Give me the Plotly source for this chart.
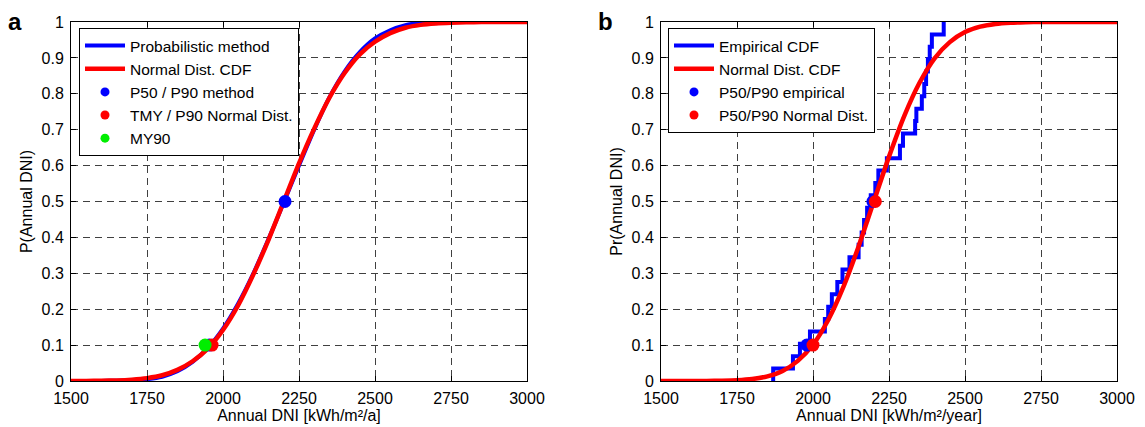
import plotly.graph_objects as go

# ---------------- data: panel a ----------------
dni_grid_a = [1500, 1550, 1600, 1650, 1700, 1750, 1800, 1850, 1900, 1950, 2000,
              2050, 2100, 2150, 2200, 2250, 2300, 2350, 2400, 2450, 2500,
              2550, 2600, 2650, 2700, 2750, 2800, 2850, 2900, 2950, 3000]
prob_method_cdf = [0.0, 0.0, 0.0002, 0.0007, 0.002, 0.005, 0.012, 0.027, 0.053, 0.092, 0.146,
                   0.216, 0.300, 0.396, 0.497, 0.600, 0.700, 0.790, 0.862, 0.916, 0.954,
                   0.977, 0.991, 0.998, 1.0, 1.0, 1.0, 1.0, 1.0, 1.0, 1.0]
normal_cdf_a = [0.0001, 0.0003, 0.0007, 0.0016, 0.0038, 0.008, 0.016, 0.031, 0.055, 0.090, 0.142,
                0.211, 0.297, 0.394, 0.500, 0.606, 0.703, 0.789, 0.858, 0.910, 0.945,
                0.969, 0.984, 0.992, 0.996, 0.998, 0.999, 1.0, 1.0, 1.0, 1.0]
p50_p90_method_x = [2204, 1955]
p50_p90_method_y = [0.5, 0.1]
tmy_p90_normal_x = [1964]
tmy_p90_normal_y = [0.1]
my90_x = [1941]
my90_y = [0.1]

# ---------------- data: panel b ----------------
annual_dni_years = [1869, 1934, 1957, 1990, 2039, 2050, 2062, 2080, 2097, 2120,
                    2150, 2160, 2168, 2178, 2190, 2205, 2215, 2243, 2286, 2296,
                    2336, 2340, 2358, 2366, 2372, 2378, 2384, 2391, 2430]
dni_grid_b = [1500, 1550, 1600, 1650, 1700, 1750, 1800, 1850, 1900, 1950, 2000,
              2050, 2100, 2150, 2200, 2250, 2300, 2350, 2400, 2450, 2500,
              2550, 2600, 2650, 2700, 2750, 2800, 2850, 2900, 2950, 3000]
normal_cdf_b = [0.0, 0.0, 0.0001, 0.0002, 0.0007, 0.002, 0.0054, 0.013, 0.028, 0.056, 0.101,
                0.170, 0.262, 0.375, 0.500, 0.625, 0.738, 0.830, 0.899, 0.944, 0.972,
                0.987, 0.9946, 0.998, 0.9993, 1.0, 1.0, 1.0, 1.0, 1.0, 1.0]
p50_p90_emp_x = [1980, 2197]
p50_p90_emp_y = [0.1, 0.5]
p50_p90_norm_x = [2000, 2205]
p50_p90_norm_y = [0.1, 0.5]

x_ticks = [1500, 1750, 2000, 2250, 2500, 2750, 3000]
y_ticks = [0, 0.1, 0.2, 0.3, 0.4, 0.5, 0.6, 0.7, 0.8, 0.9, 1]
y_tick_text = ["0", "0.1", "0.2", "0.3", "0.4", "0.5", "0.6", "0.7", "0.8", "0.9", "1"]

BLUE = "#0000ff"
RED = "#ff0000"
GREEN = "#00ee00"
FONT = "Liberation Sans, Arial, sans-serif"

# empirical CDF staircase from sorted annual values
n = len(annual_dni_years)
emp_x = annual_dni_years + [annual_dni_years[-1]]
emp_y = [k / n for k in range(n + 1)]

fig = go.Figure()

# ---- panel a curves ----
fig.add_trace(go.Scatter(x=dni_grid_a, y=prob_method_cdf, mode="lines", name="Probabilistic method",
                         line=dict(color=BLUE, width=4, shape="spline", smoothing=0.6),
                         xaxis="x", yaxis="y", legend="legend"))
fig.add_trace(go.Scatter(x=dni_grid_a, y=normal_cdf_a, mode="lines", name="Normal Dist. CDF",
                         line=dict(color=RED, width=4.5, shape="spline", smoothing=0.6),
                         xaxis="x", yaxis="y", legend="legend"))
# legend entries for markers (panel a)
for nm, col in [("P50 / P90 method", BLUE), ("TMY / P90 Normal Dist.", RED), ("MY90", GREEN)]:
    fig.add_trace(go.Scatter(x=[None], y=[None], mode="markers", name=nm,
                             marker=dict(color=col, size=9),
                             xaxis="x", yaxis="y", legend="legend"))
fig.add_trace(go.Scatter(x=p50_p90_method_x, y=p50_p90_method_y, mode="markers", showlegend=False,
                         marker=dict(color=BLUE, size=13), xaxis="x", yaxis="y"))
fig.add_trace(go.Scatter(x=tmy_p90_normal_x, y=tmy_p90_normal_y, mode="markers", showlegend=False,
                         marker=dict(color=RED, size=13), xaxis="x", yaxis="y"))
fig.add_trace(go.Scatter(x=my90_x, y=my90_y, mode="markers", showlegend=False,
                         marker=dict(color=GREEN, size=13), xaxis="x", yaxis="y"))

# ---- panel b curves ----
fig.add_trace(go.Scatter(x=emp_x, y=emp_y, mode="lines", name="Empirical CDF",
                         line=dict(color=BLUE, width=4, shape="vh"),
                         xaxis="x2", yaxis="y2", legend="legend2"))
fig.add_trace(go.Scatter(x=dni_grid_b, y=normal_cdf_b, mode="lines", name="Normal Dist. CDF",
                         line=dict(color=RED, width=4.5, shape="spline", smoothing=0.6),
                         xaxis="x2", yaxis="y2", legend="legend2"))
for nm, col in [("P50/P90 empirical", BLUE), ("P50/P90 Normal Dist.", RED)]:
    fig.add_trace(go.Scatter(x=[None], y=[None], mode="markers", name=nm,
                             marker=dict(color=col, size=9),
                             xaxis="x2", yaxis="y2", legend="legend2"))
fig.add_trace(go.Scatter(x=p50_p90_emp_x, y=p50_p90_emp_y, mode="markers", showlegend=False,
                         marker=dict(color=BLUE, size=13), xaxis="x2", yaxis="y2"))
fig.add_trace(go.Scatter(x=p50_p90_norm_x, y=p50_p90_norm_y, mode="markers", showlegend=False,
                         marker=dict(color=RED, size=13), xaxis="x2", yaxis="y2"))

W, H = 1145, 427
axis_common = dict(showline=True, linecolor="black", linewidth=1, mirror="ticks",
                   ticks="inside", ticklen=5, tickcolor="black",
                   showgrid=True, gridcolor="#404040", gridwidth=1, griddash="7px,5px",
                   zeroline=False, tickfont=dict(family=FONT, size=16, color="black"))

xa = dict(axis_common, range=[1500, 3000], tickvals=x_ticks, automargin=False,
          ticklabelstandoff=3)
ya = dict(axis_common, range=[0, 1], tickvals=y_ticks, ticktext=y_tick_text, automargin=False,
          ticklabelstandoff=3)

legend_common = dict(xanchor="left", yanchor="top", y=(381 - 28) / 359,
                     bgcolor="white", bordercolor="black", borderwidth=1,
                     font=dict(family=FONT, size=15.5), tracegroupgap=0, itemwidth=40)

fig.update_layout(
    width=W, height=H,
    margin=dict(l=0, r=0, t=22, b=46),
    plot_bgcolor="white", paper_bgcolor="white",
    font=dict(family=FONT, size=16, color="black"),
    xaxis=dict(xa, domain=[71 / W, 527 / W], anchor="y",
               title=dict(text="Annual DNI [kWh/m²/a]", standoff=0, font=dict(size=16))),
    yaxis=dict(ya, domain=[0, 1], anchor="x",
               title=dict(text="P(Annual DNI)", standoff=4, font=dict(size=16))),
    xaxis2=dict(xa, domain=[661 / W, 1117 / W], anchor="y2",
                title=dict(text="Annual DNI [kWh/m²/year]", standoff=0, font=dict(size=16))),
    yaxis2=dict(ya, domain=[0, 1], anchor="x2",
                title=dict(text="Pr(Annual DNI)", standoff=4, font=dict(size=16))),
    legend=dict(legend_common, x=79 / W),
    legend2=dict(legend_common, x=668 / W),
    showlegend=True,
    annotations=[
        dict(text="<b>a</b>", x=15 / W, y=(381 - 21) / 359, xref="paper", yref="paper",
             showarrow=False, font=dict(family=FONT, size=24, color="black"),
             xanchor="center", yanchor="middle"),
        dict(text="<b>b</b>", x=605 / W, y=(381 - 21) / 359, xref="paper", yref="paper",
             showarrow=False, font=dict(family=FONT, size=24, color="black"),
             xanchor="center", yanchor="middle"),
    ],
)

fig.write_html("out.html")
